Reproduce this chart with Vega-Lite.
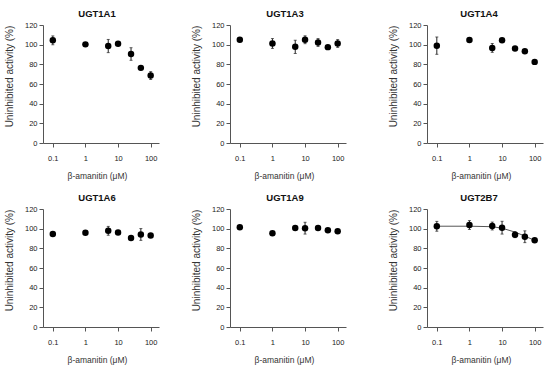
{
  "$schema": "https://vega.github.io/schema/vega-lite/v6.json",
  "padding": {"left": 4, "top": 8, "right": 5, "bottom": 5},
  "background": "white",
  "spacing": 12,
  "datasets": {
    "d": [
      {"enzyme": "UGT1A1", "conc": 0.1, "act": 104.4, "err": 4.5},
      {"enzyme": "UGT1A1", "conc": 1, "act": 100.3, "err": 1.5},
      {"enzyme": "UGT1A1", "conc": 5, "act": 98.6, "err": 6.7},
      {"enzyme": "UGT1A1", "conc": 10, "act": 101, "err": 1.5},
      {"enzyme": "UGT1A1", "conc": 25, "act": 90.5, "err": 6.4},
      {"enzyme": "UGT1A1", "conc": 50, "act": 76.4, "err": 2},
      {"enzyme": "UGT1A1", "conc": 100, "act": 68.6, "err": 4},
      {"enzyme": "UGT1A3", "conc": 0.1, "act": 105, "err": 2},
      {"enzyme": "UGT1A3", "conc": 1, "act": 101.2, "err": 5},
      {"enzyme": "UGT1A3", "conc": 5, "act": 97.8, "err": 6.7},
      {"enzyme": "UGT1A3", "conc": 10, "act": 105, "err": 4},
      {"enzyme": "UGT1A3", "conc": 25, "act": 102.2, "err": 4},
      {"enzyme": "UGT1A3", "conc": 50, "act": 97.5, "err": 1.5},
      {"enzyme": "UGT1A3", "conc": 100, "act": 101.2, "err": 4},
      {"enzyme": "UGT1A4", "conc": 0.1, "act": 99, "err": 8.8},
      {"enzyme": "UGT1A4", "conc": 1, "act": 104.7, "err": 1.5},
      {"enzyme": "UGT1A4", "conc": 5, "act": 96.7, "err": 4.5},
      {"enzyme": "UGT1A4", "conc": 10, "act": 104.5, "err": 1.5},
      {"enzyme": "UGT1A4", "conc": 25, "act": 96, "err": 1.5},
      {"enzyme": "UGT1A4", "conc": 50, "act": 93.4, "err": 1.5},
      {"enzyme": "UGT1A4", "conc": 100, "act": 82.5, "err": 1},
      {"enzyme": "UGT1A6", "conc": 0.1, "act": 94.5, "err": 1.5},
      {"enzyme": "UGT1A6", "conc": 1, "act": 95.8, "err": 1.5},
      {"enzyme": "UGT1A6", "conc": 5, "act": 97.8, "err": 4.5},
      {"enzyme": "UGT1A6", "conc": 10, "act": 96.1, "err": 1.5},
      {"enzyme": "UGT1A6", "conc": 25, "act": 90.4, "err": 1},
      {"enzyme": "UGT1A6", "conc": 50, "act": 94.1, "err": 6},
      {"enzyme": "UGT1A6", "conc": 100, "act": 93.1, "err": 1},
      {"enzyme": "UGT1A9", "conc": 0.1, "act": 101.5, "err": 1},
      {"enzyme": "UGT1A9", "conc": 1, "act": 95.3, "err": 1},
      {"enzyme": "UGT1A9", "conc": 5, "act": 100.6, "err": 1.5},
      {"enzyme": "UGT1A9", "conc": 10, "act": 100.5, "err": 6},
      {"enzyme": "UGT1A9", "conc": 25, "act": 100.6, "err": 1.5},
      {"enzyme": "UGT1A9", "conc": 50, "act": 98.3, "err": 1},
      {"enzyme": "UGT1A9", "conc": 100, "act": 97.3, "err": 1},
      {"enzyme": "UGT2B7", "conc": 0.1, "act": 102.4, "err": 5},
      {"enzyme": "UGT2B7", "conc": 1, "act": 103.7, "err": 4.5},
      {"enzyme": "UGT2B7", "conc": 5, "act": 102.7, "err": 4},
      {"enzyme": "UGT2B7", "conc": 10, "act": 101, "err": 6.5},
      {"enzyme": "UGT2B7", "conc": 25, "act": 93.9, "err": 3},
      {"enzyme": "UGT2B7", "conc": 50, "act": 91.8, "err": 6},
      {"enzyme": "UGT2B7", "conc": 100, "act": 88.2, "err": 1.5}
    ],
    "fit": [
      {"conc": 0.1, "act": 102.5},
      {"conc": 1, "act": 102.5},
      {"conc": 5, "act": 102},
      {"conc": 10, "act": 100.5},
      {"conc": 25, "act": 96.5},
      {"conc": 50, "act": 92.5},
      {"conc": 100, "act": 88}
    ]
  },
  "vconcat": [
    {
      "bounds": "flush",
      "spacing": 71,
      "hconcat": [
        {
          "width": 116, "height": 118,
          "title": {"text": "UGT1A1", "dx": -4},
          "data": {"name": "d"},
          "transform": [{"filter": "datum.enzyme === 'UGT1A1'"}],
          "encoding": {
            "x": {"field": "conc", "type": "quantitative", "scale": {"type": "log", "domain": [0.05, 180], "nice": false}, "axis": {"values": [0.1, 1, 10, 100], "title": "β-amanitin (μM)"}},
            "y": {"field": "act", "type": "quantitative", "scale": {"domain": [0, 120], "nice": false}, "axis": {"values": [0, 20, 40, 60, 80, 100, 120], "title": "Uninhibited activity (%)"}}
          },
          "layer": [
            {"mark": {"type": "errorbar", "ticks": {"size": 3, "color": "#222"}, "color": "#222"}, "encoding": {"yError": {"field": "err"}}},
            {"mark": {"type": "point", "filled": true, "size": 42, "color": "#000", "opacity": 1}}
          ]
        },
        {
          "bounds": "flush",
          "spacing": 81,
          "hconcat": [
            {
              "width": 116, "height": 118,
              "title": {"text": "UGT1A3", "dx": -3},
              "data": {"name": "d"},
              "transform": [{"filter": "datum.enzyme === 'UGT1A3'"}],
              "encoding": {
                "x": {"field": "conc", "type": "quantitative", "scale": {"type": "log", "domain": [0.05, 180], "nice": false}, "axis": {"values": [0.1, 1, 10, 100], "title": "β-amanitin (μM)"}},
                "y": {"field": "act", "type": "quantitative", "scale": {"domain": [0, 120], "nice": false}, "axis": {"values": [0, 20, 40, 60, 80, 100, 120], "title": "Uninhibited activity (%)"}}
              },
              "layer": [
                {"mark": {"type": "errorbar", "ticks": {"size": 3, "color": "#222"}, "color": "#222"}, "encoding": {"yError": {"field": "err"}}},
                {"mark": {"type": "point", "filled": true, "size": 42, "color": "#000", "opacity": 1}}
              ]
            },
            {
              "width": 116, "height": 118,
              "title": {"text": "UGT1A4", "dx": -6},
              "data": {"name": "d"},
              "transform": [{"filter": "datum.enzyme === 'UGT1A4'"}],
              "encoding": {
                "x": {"field": "conc", "type": "quantitative", "scale": {"type": "log", "domain": [0.05, 180], "nice": false}, "axis": {"values": [0.1, 1, 10, 100], "title": "β-amanitin (μM)"}},
                "y": {"field": "act", "type": "quantitative", "scale": {"domain": [0, 120], "nice": false}, "axis": {"values": [0, 20, 40, 60, 80, 100, 120], "title": "Uninhibited activity (%)"}}
              },
              "layer": [
                {"mark": {"type": "errorbar", "ticks": {"size": 3, "color": "#222"}, "color": "#222"}, "encoding": {"yError": {"field": "err"}}},
                {"mark": {"type": "point", "filled": true, "size": 42, "color": "#000", "opacity": 1}}
              ]
            }
          ]
        }
      ]
    },
    {
      "bounds": "flush",
      "spacing": 71,
      "hconcat": [
        {
          "width": 116, "height": 118,
          "title": {"text": "UGT1A6", "dx": -4},
          "data": {"name": "d"},
          "transform": [{"filter": "datum.enzyme === 'UGT1A6'"}],
          "encoding": {
            "x": {"field": "conc", "type": "quantitative", "scale": {"type": "log", "domain": [0.05, 180], "nice": false}, "axis": {"values": [0.1, 1, 10, 100], "title": "β-amanitin (μM)"}},
            "y": {"field": "act", "type": "quantitative", "scale": {"domain": [0, 120], "nice": false}, "axis": {"values": [0, 20, 40, 60, 80, 100, 120], "title": "Uninhibited activity (%)"}}
          },
          "layer": [
            {"mark": {"type": "errorbar", "ticks": {"size": 3, "color": "#222"}, "color": "#222"}, "encoding": {"yError": {"field": "err"}}},
            {"mark": {"type": "point", "filled": true, "size": 42, "color": "#000", "opacity": 1}}
          ]
        },
        {
          "bounds": "flush",
          "spacing": 81,
          "hconcat": [
            {
              "width": 116, "height": 118,
              "title": {"text": "UGT1A9", "dx": -3},
              "data": {"name": "d"},
              "transform": [{"filter": "datum.enzyme === 'UGT1A9'"}],
              "encoding": {
                "x": {"field": "conc", "type": "quantitative", "scale": {"type": "log", "domain": [0.05, 180], "nice": false}, "axis": {"values": [0.1, 1, 10, 100], "title": "β-amanitin (μM)"}},
                "y": {"field": "act", "type": "quantitative", "scale": {"domain": [0, 120], "nice": false}, "axis": {"values": [0, 20, 40, 60, 80, 100, 120], "title": "Uninhibited activity (%)"}}
              },
              "layer": [
                {"mark": {"type": "errorbar", "ticks": {"size": 3, "color": "#222"}, "color": "#222"}, "encoding": {"yError": {"field": "err"}}},
                {"mark": {"type": "point", "filled": true, "size": 42, "color": "#000", "opacity": 1}}
              ]
            },
            {
              "width": 116, "height": 118,
              "title": {"text": "UGT2B7", "dx": -6},
              "encoding": {
                "x": {"field": "conc", "type": "quantitative", "scale": {"type": "log", "domain": [0.05, 180], "nice": false}, "axis": {"values": [0.1, 1, 10, 100], "title": "β-amanitin (μM)"}},
                "y": {"field": "act", "type": "quantitative", "scale": {"domain": [0, 120], "nice": false}, "axis": {"values": [0, 20, 40, 60, 80, 100, 120], "title": "Uninhibited activity (%)"}}
              },
              "layer": [
                {"data": {"name": "fit"}, "mark": {"type": "line", "color": "#555", "strokeWidth": 1}},
                {"data": {"name": "d"}, "transform": [{"filter": "datum.enzyme === 'UGT2B7'"}], "mark": {"type": "errorbar", "ticks": {"size": 3, "color": "#222"}, "color": "#222"}, "encoding": {"yError": {"field": "err"}}},
                {"data": {"name": "d"}, "transform": [{"filter": "datum.enzyme === 'UGT2B7'"}], "mark": {"type": "point", "filled": true, "size": 42, "color": "#000", "opacity": 1}}
              ]
            }
          ]
        }
      ]
    }
  ],
  "config": {
    "view": {"stroke": null},
    "font": "Liberation Sans",
    "title": {"font": "Liberation Sans", "fontSize": 9.5, "fontWeight": "bold", "color": "#111", "anchor": "middle", "offset": 3},
    "axis": {
      "grid": false,
      "domainColor": "#555",
      "tickColor": "#555",
      "tickSize": 4,
      "labelFont": "Liberation Sans",
      "labelFontSize": 7.5,
      "labelColor": "#222",
      "titleFont": "Liberation Sans",
      "titleFontWeight": "normal",
      "titleColor": "#333"
    },
    "axisX": {"titleFontSize": 8.5, "labelPadding": 7, "titlePadding": 10, "titleX": 54},
    "axisY": {"titleFontSize": 10, "titlePadding": 10, "labelPadding": 2, "titleY": 51}
  }
}
